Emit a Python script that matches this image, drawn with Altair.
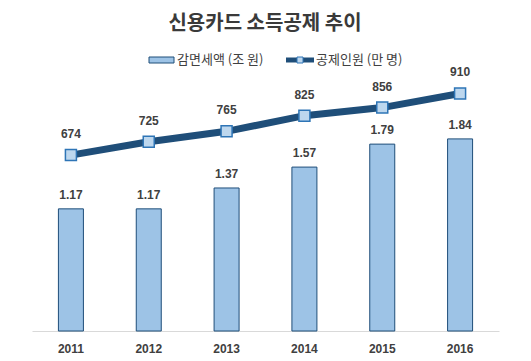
import altair as alt
import pandas as pd

years = ["2011", "2012", "2013", "2014", "2015", "2016"]
amount = [1.17, 1.17, 1.37, 1.57, 1.79, 1.84]      # 감면세액 (조 원)
people = [674, 725, 765, 825, 856, 910]             # 공제인원 (만 명)
title_text = "신용카드 소득공제 추이"
legend_bar = "감면세액 (조 원)"
legend_line = "공제인원 (만 명)"

df = pd.DataFrame({"year": years, "amount": amount, "people": people})

KR = "Noto Sans CJK KR"
NUM = "Liberation Sans"
TXT = "#404040"
BAR_FILL = "#9dc3e6"
BAR_STROKE = "#1f4e79"
LINE = "#1f4e79"
MK_FILL = "#bdd7ee"
MK_STROKE = "#2e75b6"

x = alt.X("year:O", title=None, sort=years,
          scale=alt.Scale(paddingInner=0.0, paddingOuter=0.0),
          axis=alt.Axis(labelAngle=0, ticks=False, domainColor="#d9d9d9",
                        labelColor=TXT, labelFont=NUM, labelFontSize=12,
                        labelFontWeight="bold", labelPadding=12, grid=False))

ybar = alt.Y("amount:Q", scale=alt.Scale(domain=[0, 2.5], nice=False), axis=None)
yline = alt.Y("people:Q", scale=alt.Scale(domain=[0, 1000], nice=False), axis=None)

base = alt.Chart(df)

bars = base.mark_bar(size=25, color=BAR_FILL, stroke=BAR_STROKE, strokeWidth=1).encode(x=x, y=ybar)
bar_labels = base.mark_text(dy=-14, font=NUM, fontSize=12, fontWeight="bold", color=TXT).encode(
    x=x, y=ybar, text=alt.Text("amount:Q", format=".2f"))

line = base.mark_line(color=LINE, strokeWidth=7).encode(x=x, y=yline)
pts = base.mark_point(shape="square", size=121, filled=True, fill=MK_FILL, stroke=MK_STROKE,
                      strokeWidth=1.5, opacity=1).encode(x=x, y=yline)
line_labels = base.mark_text(dy=-21, font=NUM, fontSize=12, fontWeight="bold", color=TXT).encode(
    x=x, y=yline, text=alt.Text("people:Q"))

one = alt.Chart(pd.DataFrame({"t": [title_text]}))
title = one.mark_text(font=KR, fontSize=20, fontWeight="bold", color="#3a3a3a", baseline="middle").encode(
    x=alt.value(233), y=alt.value(-46), text="t:N")

leg = alt.Chart(pd.DataFrame({"a": [legend_bar], "b": [legend_line]}))
leg_rect = leg.mark_rect(fill=BAR_FILL, stroke=BAR_STROKE, strokeWidth=1).encode(
    x=alt.value(117), x2=alt.value(142), y=alt.value(-13), y2=alt.value(-7))
leg_t1 = leg.mark_text(font=KR, fontSize=13, color=TXT, align="left", baseline="middle").encode(
    x=alt.value(145), y=alt.value(-10), text="a:N")
leg_line = leg.mark_rect(fill=LINE, strokeWidth=0).encode(
    x=alt.value(254), x2=alt.value(282), y=alt.value(-12.5), y2=alt.value(-7.5))
leg_pt = leg.mark_point(shape="square", size=36, filled=True, fill=MK_FILL, stroke=MK_STROKE,
                        strokeWidth=1, opacity=1).encode(x=alt.value(268), y=alt.value(-10))
leg_t2 = leg.mark_text(font=KR, fontSize=13, color=TXT, align="left", baseline="middle").encode(
    x=alt.value(284), y=alt.value(-10), text="b:N")

chart = alt.layer(
    bars, bar_labels, line, pts, line_labels, title, leg_rect, leg_t1, leg_line, leg_pt, leg_t2
).resolve_scale(
    y="independent"
).properties(
    width=467, height=261,
    autosize=alt.AutoSizeParams(type="none"),
    padding={"left": 24, "top": 62, "right": 16, "bottom": 28},
    view=alt.ViewBackground(stroke="transparent", strokeWidth=0, fill="white"),
).configure_view(
    strokeWidth=0, stroke="transparent"
).configure_axis(
    grid=False
).configure(background="white")

chart.save("out.html", embed_options={"renderer": "svg", "actions": False})
